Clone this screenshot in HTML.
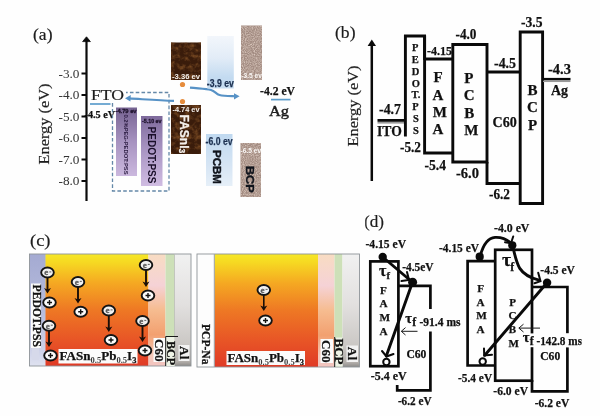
<!DOCTYPE html>
<html>
<head>
<meta charset="utf-8">
<title>Energy level diagrams</title>
<style>
html,body{margin:0;padding:0;background:#fefefe;}
body{width:600px;height:416px;overflow:hidden;font-family:"Liberation Serif",serif;}
svg{display:block;position:absolute;left:0;top:0;}
text{font-family:"Liberation Serif",serif;}
.sb{font-family:"Liberation Serif",serif;font-weight:bold;fill:#111;stroke:#111;stroke-width:0.25px;}
.sr{font-family:"Liberation Serif",serif;fill:#1c1c1c;stroke:#1c1c1c;stroke-width:0.2px;}
.ss{font-family:"Liberation Sans",sans-serif;font-weight:bold;}
.hv{stroke:#10141c;stroke-width:0.4px;}
</style>
</head>
<body>
<svg width="600" height="416" viewBox="0 0 600 416">
<defs>
  <filter id="soft" x="-5%" y="-5%" width="110%" height="110%" color-interpolation-filters="sRGB"><feGaussianBlur stdDeviation="0.55"/></filter>
  <filter id="brownTex" x="0" y="0" width="100%" height="100%" color-interpolation-filters="sRGB">
    <feTurbulence type="fractalNoise" baseFrequency="0.2" numOctaves="3" seed="11" result="n"/>
    <feColorMatrix in="n" type="matrix" values="0 0 0 0 0.46  0 0 0 0 0.28  0 0 0 0 0.13  2.4 0 0 0 -1.0" result="c"/>
    <feComposite in="c" in2="SourceGraphic" operator="in" result="cc"/>
    <feMerge><feMergeNode in="SourceGraphic"/><feMergeNode in="cc"/></feMerge>
  </filter>
  <filter id="speck" x="0" y="0" width="100%" height="100%" color-interpolation-filters="sRGB">
    <feTurbulence type="fractalNoise" baseFrequency="0.9" numOctaves="2" seed="3" result="n"/>
    <feColorMatrix in="n" type="matrix" values="0 0 0 0 0.87  0 0 0 0 0.80  0 0 0 0 0.76  1.8 0 0 0 -0.62" result="c"/>
    <feComposite in="c" in2="SourceGraphic" operator="in" result="cc"/>
    <feMerge><feMergeNode in="SourceGraphic"/><feMergeNode in="cc"/></feMerge>
  </filter>
  <linearGradient id="gPurple1" x1="0" y1="0" x2="0" y2="1">
    <stop offset="0" stop-color="#766392"/><stop offset="0.5" stop-color="#a793c0"/><stop offset="1" stop-color="#cbb8de"/>
  </linearGradient>
  <linearGradient id="gPurple2" x1="0" y1="0" x2="0" y2="1">
    <stop offset="0" stop-color="#7e6a9c"/><stop offset="0.5" stop-color="#aa96c4"/><stop offset="1" stop-color="#d0bce2"/>
  </linearGradient>
  <linearGradient id="gBlueTop" x1="0" y1="0" x2="0" y2="1">
    <stop offset="0" stop-color="#f2f6fb"/><stop offset="0.42" stop-color="#e2ecf7"/><stop offset="0.8" stop-color="#c2daf0"/><stop offset="1" stop-color="#c8ddf1"/>
  </linearGradient>
  <linearGradient id="gBlueBot" x1="0" y1="0" x2="0" y2="1">
    <stop offset="0" stop-color="#c0d9f0"/><stop offset="0.6" stop-color="#d6e5f4"/><stop offset="1" stop-color="#e6eff8"/>
  </linearGradient>
</defs>

<!-- ================= PANEL (a) ================= -->
<g id="panelA" filter="url(#soft)">
  <text x="33" y="40" font-size="16" class="sr" textLength="19.5" lengthAdjust="spacingAndGlyphs">(a)</text>
  <!-- axis -->
  <line x1="86.5" y1="40" x2="86.5" y2="201" stroke="#0a0a0a" stroke-width="2.2"/>
  <path d="M86.5 36.8 L82.6 41.6 L90.4 41.6 Z" fill="#0a0a0a" stroke="#0a0a0a" stroke-width="0.8" stroke-linejoin="round"/>
  <g stroke="#0a0a0a" stroke-width="2">
    <line x1="81.5" y1="73.5" x2="86" y2="73.5"/>
    <line x1="81.5" y1="95" x2="86" y2="95"/>
    <line x1="81.5" y1="116.5" x2="86" y2="116.5"/>
    <line x1="81.5" y1="138" x2="86" y2="138"/>
    <line x1="81.5" y1="159.5" x2="86" y2="159.5"/>
    <line x1="81.5" y1="181" x2="86" y2="181"/>
  </g>
  <g font-size="11.5" class="sr" style="fill:#333;stroke:none">
    <text x="58.5" y="77.5" textLength="21" lengthAdjust="spacingAndGlyphs">-3.0</text>
    <text x="58.5" y="99" textLength="21" lengthAdjust="spacingAndGlyphs">-4.0</text>
    <text x="58.5" y="120.5" textLength="21" lengthAdjust="spacingAndGlyphs">-5.0</text>
    <text x="58.5" y="142" textLength="21" lengthAdjust="spacingAndGlyphs">-6.0</text>
    <text x="58.5" y="163.5" textLength="21" lengthAdjust="spacingAndGlyphs">-7.0</text>
    <text x="58.5" y="185" textLength="21" lengthAdjust="spacingAndGlyphs">-8.0</text>
  </g>
  <text transform="translate(48.5,164.5) rotate(-90)" font-size="15.5" class="sr" textLength="81" lengthAdjust="spacingAndGlyphs">Energy (eV)</text>

  <!-- FTO -->
  <line x1="90" y1="104" x2="110.5" y2="104" stroke="#5c9ccb" stroke-width="1.7"/>
  <text x="84.5" y="117.5" font-size="10.5" class="sb" textLength="30.5" lengthAdjust="spacingAndGlyphs">-4.5 eV</text>

  <!-- dashed box -->
  <rect x="112.5" y="92.5" width="56.5" height="98.5" fill="none" stroke="#6488a8" stroke-width="1.3" stroke-dasharray="3.6 2.2"/>

  <rect x="90" y="88" width="36" height="14.5" fill="#fefefe"/>
  <text x="91" y="100" font-size="15.5" class="sr" textLength="33" lengthAdjust="spacingAndGlyphs">FTO</text>
  <!-- purple bars -->
  <rect x="116" y="107.5" width="21" height="68.5" fill="url(#gPurple1)"/>
  <rect x="141" y="116" width="21.5" height="70" fill="url(#gPurple2)"/>
  <text x="115.5" y="112.6" font-size="5.6" class="ss" fill="#20142e" stroke="#20142e" stroke-width="0.3" textLength="21" lengthAdjust="spacingAndGlyphs">-4.79 ev</text>
  <text x="142" y="122.6" font-size="5.6" class="ss" fill="#20142e" stroke="#20142e" stroke-width="0.3" textLength="19.5" lengthAdjust="spacingAndGlyphs">-5.10 ev</text>
  <text transform="translate(124.3,114.5) rotate(90)" font-size="5.4" class="ss" fill="#2a1a40" textLength="60" lengthAdjust="spacingAndGlyphs">0.2%PEG-PEDOT:PSS</text>
  <text transform="translate(147.5,126.5) rotate(90)" font-size="10.5" class="ss" fill="#1a0f2a" textLength="57" lengthAdjust="spacingAndGlyphs">PEDOT:PSS</text>

  <!-- brown (FASnI3) -->
  <rect x="171" y="42.5" width="30" height="37.5" fill="#3a1c0b" filter="url(#brownTex)"/>
  <rect x="171" y="105" width="30" height="49" fill="#3a1c0b" filter="url(#brownTex)"/>
  <text x="172" y="79" font-size="6.5" class="ss" fill="#f4f0ec" textLength="28" lengthAdjust="spacingAndGlyphs">-3.36 ev</text>
  <text x="172.5" y="112" font-size="6.5" class="ss" fill="#f4f0ec" textLength="27" lengthAdjust="spacingAndGlyphs">-4.74 ev</text>
  <text transform="translate(180.2,114.5) rotate(90)" font-size="12" class="ss" fill="#f4f0ec" stroke="#f4f0ec" stroke-width="0.25">FASnI<tspan font-size="8.5" dy="1.6">3</tspan></text>
  <circle cx="182.5" cy="84.5" r="2.6" fill="#e68c3c"/>
  <circle cx="182.5" cy="101.5" r="2.6" fill="#e68c3c"/>

  <!-- blue arrows -->
  <path d="M174 100.9 C160 100.4 146 99.4 129 98.4" fill="none" stroke="#5792c6" stroke-width="2.1"/>
  <path d="M125 98.2 L130.8 95 L130.4 101.6 Z" fill="#5792c6"/>
  <path d="M190 87.6 C198 88.5 206 88.7 211 89.9 C215 91 216 94 219.5 95 C224 96.2 230 96 236 96.2" fill="none" stroke="#5792c6" stroke-width="2.1"/>
  <path d="M239.6 96.3 L234 93.2 L234 99.4 Z" fill="#5792c6"/>

  <!-- PCBM -->
  <rect x="207.3" y="36" width="26.5" height="52.5" fill="url(#gBlueTop)"/>
  <rect x="206" y="134" width="26.5" height="52" fill="url(#gBlueBot)"/>
  <text x="206.8" y="86.6" font-size="10.8" class="ss" fill="#1c3050" stroke="#1c3050" stroke-width="0.25" textLength="27" lengthAdjust="spacingAndGlyphs">-3.9 ev</text>
  <text x="205.6" y="145.2" font-size="10.8" class="ss" fill="#1c3050" stroke="#1c3050" stroke-width="0.25" textLength="27" lengthAdjust="spacingAndGlyphs">-6.0 ev</text>
  <text transform="translate(212.8,150) rotate(90)" font-size="11.5" class="ss hv" fill="#10141c" textLength="34" lengthAdjust="spacingAndGlyphs">PCBM</text>

  <!-- BCP -->
  <rect x="241" y="25.5" width="21" height="54.5" fill="#a38c82" filter="url(#speck)"/>
  <rect x="240.5" y="143" width="20.5" height="54" fill="#a38c82" filter="url(#speck)"/>
  <text x="241.3" y="78.3" font-size="7.8" class="ss" fill="#f8f5f3" textLength="20.5" lengthAdjust="spacingAndGlyphs">-3.5 ev</text>
  <text x="240.6" y="153" font-size="7.8" class="ss" fill="#f8f5f3" textLength="20.5" lengthAdjust="spacingAndGlyphs">-6.5 ev</text>
  <text transform="translate(245.6,166) rotate(90)" font-size="11.5" class="ss hv" fill="#10141c" textLength="26.6" lengthAdjust="spacingAndGlyphs">BCP</text>

  <!-- Ag -->
  <text x="260" y="95.2" font-size="12.5" class="sb" textLength="35" lengthAdjust="spacingAndGlyphs">-4.2 eV</text>
  <line x1="271" y1="99.6" x2="290.5" y2="99.6" stroke="#5c9ccb" stroke-width="1.7"/>
  <text x="269" y="115.6" font-size="15.5" class="sr" style="stroke-width:0.45px" textLength="20" lengthAdjust="spacingAndGlyphs">Ag</text>
</g>

<!-- ================= PANEL (b) ================= -->
<g id="panelB" filter="url(#soft)">
  <text x="335" y="37.9" font-size="16.8" class="sr" textLength="20.5" lengthAdjust="spacingAndGlyphs">(b)</text>
  <!-- axis -->
  <line x1="371.8" y1="44" x2="371.8" y2="181" stroke="#0a0a0a" stroke-width="2.5"/>
  <path d="M371.8 39.5 L367.6 46 L376 46 Z" fill="#0a0a0a"/>
  <text transform="translate(357.5,146.5) rotate(-90)" font-size="15.5" class="sr" textLength="81" lengthAdjust="spacingAndGlyphs">Energy (eV)</text>

  <!-- ITO -->
  <line x1="377.5" y1="122.8" x2="405" y2="122.8" stroke="#9a9a9a" stroke-width="1.6"/>
  <line x1="377.5" y1="120.4" x2="405" y2="120.4" stroke="#0a0a0a" stroke-width="2.8"/>
  <text x="379" y="114" font-size="15" class="sb" textLength="22" lengthAdjust="spacingAndGlyphs">-4.7</text>
  <text x="377" y="136.2" font-size="14" class="sb" textLength="24.8" lengthAdjust="spacingAndGlyphs">ITO</text>

  <!-- boxes -->
  <g fill="none" stroke="#0a0a0a" stroke-width="2.9" stroke-linejoin="miter">
    <!-- PEDOT:PSS (no bottom) -->
    <path d="M405.4 136.5 L405.4 36 L424.6 36 L424.6 60"/>
    <!-- FAMA -->
    <path d="M424.6 59 L452.8 59 M424.6 36 L424.6 153 L452.8 153"/>
    <!-- PCBM -->
    <path d="M452.8 162 L452.8 44.5 L487 44.5 L487 162 Z"/>
    <!-- C60 -->
    <path d="M487 72 L520.2 72 M487 162 L487 183.5 L520.2 183.5"/>
    <!-- BCP -->
    <path d="M520.2 203.5 L520.2 32 L542.6 32 L542.6 203.5 Z"/>
  </g>

  <!-- Ag -->
  <line x1="543" y1="81.3" x2="570.5" y2="81.3" stroke="#9a9a9a" stroke-width="1.5"/>
  <line x1="543" y1="79.1" x2="570.5" y2="79.1" stroke="#0a0a0a" stroke-width="2.4"/>
  <text x="548" y="74" font-size="15" class="sb" textLength="23" lengthAdjust="spacingAndGlyphs">-4.3</text>
  <text x="551" y="95.3" font-size="14.5" class="sb" textLength="17" lengthAdjust="spacingAndGlyphs">Ag</text>

  <!-- energy labels -->
  <text x="427" y="54.8" font-size="12.5" class="sb" textLength="25" lengthAdjust="spacingAndGlyphs">-4.15</text>
  <text x="455.5" y="39" font-size="15" class="sb" textLength="21" lengthAdjust="spacingAndGlyphs">-4.0</text>
  <text x="494" y="67.5" font-size="15" class="sb" textLength="22" lengthAdjust="spacingAndGlyphs">-4.5</text>
  <text x="521" y="27" font-size="15" class="sb" textLength="21.5" lengthAdjust="spacingAndGlyphs">-3.5</text>
  <text x="400" y="151.5" font-size="15" class="sb" textLength="21" lengthAdjust="spacingAndGlyphs">-5.2</text>
  <text x="424.5" y="170" font-size="15" class="sb" textLength="21.5" lengthAdjust="spacingAndGlyphs">-5.4</text>
  <text x="456" y="178" font-size="15" class="sb" textLength="23" lengthAdjust="spacingAndGlyphs">-6.0</text>
  <text x="489" y="198.5" font-size="15" class="sb" textLength="21" lengthAdjust="spacingAndGlyphs">-6.2</text>

  <!-- PEDOT letters -->
  <g font-size="10.5" class="sb" text-anchor="middle">
    <text x="415.3" y="50.5">P</text>
    <text x="415.3" y="62.5">E</text>
    <text x="415.5" y="74.8">D</text>
    <text x="415.8" y="86.8">O</text>
    <text x="416" y="98.3">T.</text>
    <text x="415.5" y="109.6">P</text>
    <text x="415.8" y="121.8">S</text>
    <text x="415.8" y="134">S</text>
  </g>
  <!-- FAMA letters -->
  <g font-size="15" class="sb">
    <text x="433.4" y="82.4">F</text>
    <text x="432.6" y="100">A</text>
    <text x="432.8" y="117">M</text>
    <text x="432.6" y="134.2">A</text>
  </g>
  <!-- PCBM letters -->
  <g font-size="15" class="sb">
    <text x="464.2" y="83">P</text>
    <text x="463.8" y="100.4">C</text>
    <text x="464.2" y="118">B</text>
    <text x="464.2" y="134.8">M</text>
  </g>
  <text x="492.5" y="127.2" font-size="14.5" class="sb" textLength="24.2" lengthAdjust="spacingAndGlyphs">C60</text>
  <!-- BCP letters -->
  <g font-size="15" class="sb" text-anchor="middle">
    <text x="532.5" y="94.6">B</text>
    <text x="532.5" y="112">C</text>
    <text x="532.5" y="130">P</text>
  </g>
</g>
<!-- PANEL_B_END -->
<!-- ================= PANEL (c) ================= -->
<defs>
  <linearGradient id="gPero" x1="0" y1="0" x2="0" y2="1">
    <stop offset="0" stop-color="#f6e726"/><stop offset="0.07" stop-color="#f6da22"/><stop offset="0.26" stop-color="#f5a822"/>
    <stop offset="0.5" stop-color="#ee7824"/><stop offset="0.76" stop-color="#e85626"/><stop offset="1" stop-color="#e03a26"/>
  </linearGradient>
  <linearGradient id="gPedot" x1="0" y1="0" x2="0" y2="1">
    <stop offset="0" stop-color="#a4aad2"/><stop offset="0.5" stop-color="#b6bcdc"/><stop offset="0.85" stop-color="#cdd1e8"/><stop offset="1" stop-color="#dfe2f0"/>
  </linearGradient>
  <linearGradient id="gC60" x1="0" y1="0" x2="0" y2="1">
    <stop offset="0" stop-color="#f8dcc2"/><stop offset="0.28" stop-color="#f5d2d6"/><stop offset="0.5" stop-color="#f6bc90"/>
    <stop offset="0.72" stop-color="#f2a070"/><stop offset="0.9" stop-color="#f4c8b8"/><stop offset="1" stop-color="#f2c4c0"/>
  </linearGradient>
  <linearGradient id="gAl" x1="0" y1="0" x2="0" y2="1">
    <stop offset="0" stop-color="#f1f1f1"/><stop offset="0.45" stop-color="#e2e0df"/><stop offset="0.8" stop-color="#cbc8c5"/><stop offset="0.96" stop-color="#b2aeaa"/><stop offset="1" stop-color="#8c8a88"/>
  </linearGradient>
  <g id="el">
    <ellipse cx="0" cy="0" rx="6.3" ry="5" fill="url(#gEl)" stroke="#141414" stroke-width="1.9"/>
    <text x="-1.3" y="2.7" font-size="9" text-anchor="middle" font-family="Liberation Sans, sans-serif" fill="#5c5c5c" stroke="#5c5c5c" stroke-width="0.3" font-weight="bold">e</text>
    <line x1="1.8" y1="-0.6" x2="3.8" y2="-0.6" stroke="#6a6a6a" stroke-width="1.1"/>
  </g>
  <radialGradient id="gEl" cx="0.5" cy="0.5" r="0.6"><stop offset="0" stop-color="#e6e6e6"/><stop offset="0.6" stop-color="#f4f4f4"/><stop offset="1" stop-color="#fdfdfd"/></radialGradient>
  <g id="ho">
    <ellipse cx="0" cy="0" rx="6.3" ry="5" fill="#fbfbfb" stroke="#141414" stroke-width="1.9"/>
    <path d="M-2.5 0 H2.5 M0 -2.5 V2.5" stroke="#141414" stroke-width="1.4" fill="none"/>
  </g>
  <path id="ah" d="M0 0 L-3.5 -5.6 L0 -4 L3.5 -5.6 Z" fill="#1a0e08"/>
</defs>
<g id="panelC" filter="url(#soft)">
  <text x="30" y="246.2" font-size="17.2" class="sr" textLength="20.5" lengthAdjust="spacingAndGlyphs">(c)</text>

  <!-- device 1 -->
  <rect x="29.5" y="254" width="16.4" height="112" fill="url(#gPedot)"/>
  <rect x="45.5" y="254" width="103" height="112" fill="url(#gPero)"/>
  <rect x="148.5" y="254" width="17" height="112" fill="url(#gC60)"/>
  <rect x="165.5" y="254" width="9" height="112" fill="#cde0b8"/>
  <rect x="174.5" y="254" width="16.5" height="112" fill="url(#gAl)"/>
  <rect x="29.5" y="254" width="161.5" height="112" fill="none" stroke="#8f9499" stroke-width="0.9"/>
  <line x1="174.5" y1="254" x2="174.5" y2="366" stroke="#b9bdb4" stroke-width="0.8"/>

  <!-- labels device 1 -->
  <rect x="31" y="283.5" width="9.8" height="64.5" fill="#fbfbfb"/>
  <text transform="translate(32.6,284.5) rotate(90)" font-size="12" class="sb" textLength="62.5" lengthAdjust="spacingAndGlyphs">PEDOT.PSS</text>
  <rect x="32" y="348" width="7" height="12" fill="#d6d9ea"/>
  <rect x="58.5" y="349" width="79" height="14.5" fill="#fbfbfb"/>
  <text x="59.5" y="360" font-size="13" class="sb" textLength="77" lengthAdjust="spacingAndGlyphs">FASn<tspan font-size="8.5" dy="2.5" style="fill:#3a3a3a;stroke:none">0.5</tspan><tspan dy="-2.5">Pb</tspan><tspan font-size="8.5" dy="2.5" style="fill:#3a3a3a;stroke:none">0.5</tspan><tspan dy="-2.5">I</tspan><tspan font-size="8.5" dy="2.5">3</tspan></text>
  <rect x="153.5" y="338" width="12" height="24" fill="#fbfbfb"/>
  <text transform="translate(155.2,339) rotate(90)" font-size="13.5" class="sb" textLength="22.5" lengthAdjust="spacingAndGlyphs">C60</text>
  <rect x="166" y="337" width="8.5" height="29" fill="#eef3e6"/>
  <path d="M165.7 366 V336.5 H178" fill="none" stroke="#1a1a1a" stroke-width="1"/>
  <text transform="translate(166.6,341) rotate(90)" font-size="11.5" class="sb" textLength="24" lengthAdjust="spacingAndGlyphs">BCP</text>
  <rect x="178.5" y="345" width="11" height="16" fill="#f2f2f2"/>
  <text transform="translate(180.2,346) rotate(90)" font-size="12.5" class="sb" textLength="13.5" lengthAdjust="spacingAndGlyphs">Al</text>

  <!-- carriers device 1 -->
  <g stroke="#1a0e08" stroke-width="1.9" fill="none">
    <line x1="47.5" y1="277" x2="47.5" y2="291"/>
    <line x1="78" y1="287" x2="78" y2="301"/>
    <line x1="108.8" y1="315.5" x2="108.8" y2="329.5"/>
    <line x1="146" y1="270" x2="146" y2="284.5"/>
    <line x1="49" y1="331" x2="49" y2="344.5"/>
    <line x1="142.5" y1="326" x2="142.5" y2="339.5"/>
  </g>
  <use href="#ah" x="47.5" y="293.5"/>
  <use href="#ah" x="78" y="303.5"/>
  <use href="#ah" x="108.8" y="332"/>
  <use href="#ah" x="146" y="287"/>
  <use href="#ah" x="49" y="347"/>
  <use href="#ah" x="142.5" y="342"/>
  <use href="#el" x="47.5" y="272.5"/>
  <use href="#ho" x="49.5" y="302.5"/>
  <use href="#el" x="78" y="282"/>
  <use href="#ho" x="80.7" y="311.7"/>
  <use href="#el" x="108.8" y="310.5"/>
  <use href="#ho" x="111" y="340"/>
  <use href="#el" x="146" y="265"/>
  <use href="#ho" x="148" y="295.5"/>
  <use href="#el" x="49" y="325.8"/>
  <use href="#ho" x="50.5" y="355.5"/>
  <use href="#el" x="142.5" y="321"/>
  <use href="#ho" x="145" y="350.5"/>

  <!-- device 2 -->
  <rect x="197" y="254" width="17.5" height="113" fill="#fdfdfd"/>
  <rect x="214.5" y="254" width="103.5" height="113" fill="url(#gPero)"/>
  <rect x="318" y="254" width="16.5" height="113" fill="url(#gC60)"/>
  <rect x="334.5" y="254" width="8" height="113" fill="#cde0b8"/>
  <rect x="342.5" y="254" width="17" height="113" fill="url(#gAl)"/>
  <rect x="197" y="254" width="162.5" height="113" fill="none" stroke="#8f9499" stroke-width="0.9"/>
  <line x1="214.3" y1="254" x2="214.3" y2="367" stroke="#9a9fa6" stroke-width="1"/>

  <text transform="translate(202.2,324) rotate(90)" font-size="12.5" class="sb" textLength="40.5" lengthAdjust="spacingAndGlyphs">PCP-Na</text>
  <rect x="226.5" y="351" width="78.5" height="14" fill="#fbfbfb"/>
  <text x="227.5" y="362" font-size="13" class="sb" textLength="76.5" lengthAdjust="spacingAndGlyphs">FASn<tspan font-size="8.5" dy="2.5" style="fill:#3a3a3a;stroke:none">0.5</tspan><tspan dy="-2.5">Pb</tspan><tspan font-size="8.5" dy="2.5" style="fill:#3a3a3a;stroke:none">0.5</tspan><tspan dy="-2.5">I</tspan><tspan font-size="8.5" dy="2.5">3</tspan></text>
  <rect x="320.5" y="339" width="12.5" height="24" fill="#fbfbfb"/>
  <text transform="translate(322.2,340) rotate(90)" font-size="13.5" class="sb" textLength="22.5" lengthAdjust="spacingAndGlyphs">C60</text>
  <rect x="335" y="337.5" width="7.6" height="29" fill="#eef3e6"/>
  <line x1="334.7" y1="337" x2="334.7" y2="367" stroke="#1a1a1a" stroke-width="1"/>
  <text transform="translate(335.4,338.5) rotate(90)" font-size="11.5" class="sb" textLength="26" lengthAdjust="spacingAndGlyphs">BCP</text>
  <rect x="346.5" y="345.5" width="11.5" height="16.5" fill="#f2f2f2"/>
  <text transform="translate(348.2,346.8) rotate(90)" font-size="12.5" class="sb" textLength="13.5" lengthAdjust="spacingAndGlyphs">Al</text>

  <line x1="263.8" y1="295" x2="263.8" y2="308" stroke="#1a0e08" stroke-width="1.6"/>
  <use href="#ah" x="263.8" y="311"/>
  <use href="#el" x="263.8" y="290"/>
  <use href="#ho" x="265.5" y="320.5"/>
</g>
<!-- PANEL_C_END -->
<!-- ================= PANEL (d) ================= -->
<g id="panelD" filter="url(#soft)">
  <text x="364" y="226.6" font-size="17.5" class="sr" textLength="20" lengthAdjust="spacingAndGlyphs">(d)</text>

  <!-- ===== left diagram ===== -->
  <g fill="none" stroke="#0a0a0a" stroke-width="2.7" stroke-linejoin="miter" stroke-linecap="butt">
    <rect x="370.3" y="261.4" width="28.1" height="104.8"/>
    <!-- C60 -->
    <path d="M398.4 285.9 H430.4 V309 M430.4 331.4 V390.4 H397.2 V385"/>
  </g>
  <!-- transfer arrows -->
  <g fill="none" stroke="#0a0a0a" stroke-linecap="round">
    <line x1="382.7" y1="257" x2="411" y2="281" stroke-width="2.9"/>
    <path d="M407 272 L409 280 L401.5 281" stroke-width="2"/>
    <line x1="412.6" y1="282" x2="386.3" y2="356" stroke-width="2.9"/>
    <path d="M382 351 L386.5 356.5 L393.5 354" stroke-width="2"/>
  </g>
  <circle cx="382.7" cy="257" r="4.2" fill="#0a0a0a"/>
  <circle cx="412.6" cy="282.2" r="4.5" fill="#0a0a0a"/>
  <circle cx="386.4" cy="362" r="3.2" fill="#fefefe" stroke="#0a0a0a" stroke-width="2"/>

  <text x="365.5" y="248.3" font-size="12.5" class="sb" textLength="40.5" lengthAdjust="spacingAndGlyphs">-4.15 eV</text>
  <text x="402.2" y="271" font-size="12.5" class="sb" textLength="31.4" lengthAdjust="spacingAndGlyphs">-4.5eV</text>
  <text x="379" y="276" font-size="16" class="sb">τ<tspan font-size="10.5" dy="2.6">f</tspan></text>
  <g font-size="11.2" class="sb">
    <text x="380" y="293.6">F</text>
    <text x="379.4" y="307.4">A</text>
    <text x="379.4" y="321.2">M</text>
    <text x="379.4" y="335">A</text>
  </g>
  <rect x="404.5" y="312" width="56" height="15.5" fill="#fefefe"/>
  <text x="405.3" y="323" font-size="14.5" class="sb">τ</text>
  <text x="412.2" y="326.2" font-size="12" class="sb">f</text>
  <text x="419.5" y="326.2" font-size="12" class="sb" textLength="41" lengthAdjust="spacingAndGlyphs">-91.4 ms</text>
  <g fill="none" stroke="#1a1a1a" stroke-width="1">
    <path d="M417.5 331.3 H401.5 M405.5 327.6 L401.3 331.3 L405.5 335"/>
  </g>
  <text x="406.4" y="357.8" font-size="12.5" class="sb" textLength="20" lengthAdjust="spacingAndGlyphs">C60</text>
  <text x="370.8" y="380.3" font-size="12.5" class="sb" textLength="35.8" lengthAdjust="spacingAndGlyphs">-5.4 eV</text>
  <text x="397.9" y="405" font-size="12.5" class="sb" textLength="33.6" lengthAdjust="spacingAndGlyphs">-6.2 eV</text>

  <rect x="358" y="208" width="7.2" height="44" fill="#fefefe"/>

  <!-- ===== right diagram ===== -->
  <g fill="none" stroke="#0a0a0a" stroke-width="2.7" stroke-linejoin="miter" stroke-linecap="butt">
    <!-- FAMA -->
    <path d="M495.2 261.2 H467.6 V365.5 H495.2"/>
    <!-- PCBM -->
    <rect x="495.2" y="249.8" width="36.8" height="130.9"/>
    <!-- C60 -->
    <path d="M532 287 H567.4 V333.4 M567.4 347.2 V391.3 H532 V380"/>
  </g>
  <g fill="none" stroke="#0a0a0a" stroke-linecap="round">
    <path d="M480.5 255 C483 246 488 238 495 237.4 C501 237 506 239 510 242.4" stroke-width="2.9"/>
    <path d="M513.2 236.5 L511 243.2 L505 242.2" stroke-width="2"/>
    <path d="M512.8 246 C514.5 254 516 262 519.8 268.4 C524 275 530 277.8 539 280.2" stroke-width="2.9"/>
    <path d="M538.2 272.8 L540.5 281.2 L534.5 283.2" stroke-width="2"/>
    <line x1="547" y1="282.7" x2="484.8" y2="355.3" stroke-width="2.9"/>
    <path d="M484 348.5 L484.2 355.5 L492 354.8" stroke-width="2"/>
  </g>
  <circle cx="479.7" cy="256.7" r="4.1" fill="#0a0a0a"/>
  <circle cx="512.3" cy="245.3" r="4.1" fill="#0a0a0a"/>
  <circle cx="547.1" cy="282.7" r="4.2" fill="#0a0a0a"/>
  <circle cx="482.7" cy="361.5" r="3.2" fill="#fefefe" stroke="#0a0a0a" stroke-width="2"/>

  <text x="439" y="252.2" font-size="12.5" class="sb" textLength="40" lengthAdjust="spacingAndGlyphs">-4.15 eV</text>
  <text x="494" y="232.2" font-size="12.5" class="sb" textLength="35.4" lengthAdjust="spacingAndGlyphs">-4.0 eV</text>
  <text x="540.3" y="273.8" font-size="12.5" class="sb" textLength="34.6" lengthAdjust="spacingAndGlyphs">-4.5 eV</text>
  <text x="502" y="266.3" font-size="19.5" class="sb">τ<tspan font-size="12" dy="4.6" dx="-0.8">f</tspan></text>
  <g font-size="11.2" class="sb">
    <text x="477.2" y="291.8">F</text>
    <text x="476.6" y="305.8">A</text>
    <text x="476.2" y="319.4">M</text>
    <text x="476.6" y="333.4">A</text>
  </g>
  <g font-size="11" class="sb" text-anchor="middle">
    <text x="512.5" y="305.6">P</text>
    <text x="512.5" y="319.4">C</text>
    <text x="512.5" y="333.2">B</text>
    <text x="513.8" y="347.2">M</text>
  </g>
  <g fill="none" stroke="#1a1a1a" stroke-width="1">
    <path d="M540 328.1 H519 M523.5 324.2 L518.8 328.1 L523.5 332"/>
  </g>
  <rect x="520.5" y="333.4" width="62" height="13.8" fill="#fefefe"/>
  <text x="522.8" y="342" font-size="14.5" class="sb">τ</text>
  <text x="529.8" y="344.8" font-size="12" class="sb">f</text>
  <text x="536.5" y="344.8" font-size="12" class="sb" textLength="45.5" lengthAdjust="spacingAndGlyphs">-142.8 ms</text>
  <rect x="581.8" y="333" width="10" height="15" fill="#fefefe"/>
  <text x="540.2" y="360.3" font-size="12.5" class="sb" textLength="20" lengthAdjust="spacingAndGlyphs">C60</text>
  <text x="458.1" y="381.5" font-size="12.5" class="sb" textLength="34" lengthAdjust="spacingAndGlyphs">-5.4 eV</text>
  <text x="493.3" y="394.8" font-size="12.5" class="sb" textLength="34.7" lengthAdjust="spacingAndGlyphs">-6.0 eV</text>
  <text x="534.7" y="407.2" font-size="12.5" class="sb" textLength="34.6" lengthAdjust="spacingAndGlyphs">-6.2 eV</text>
</g>
<!-- PANEL_D_END -->
</svg>
</body>
</html>
